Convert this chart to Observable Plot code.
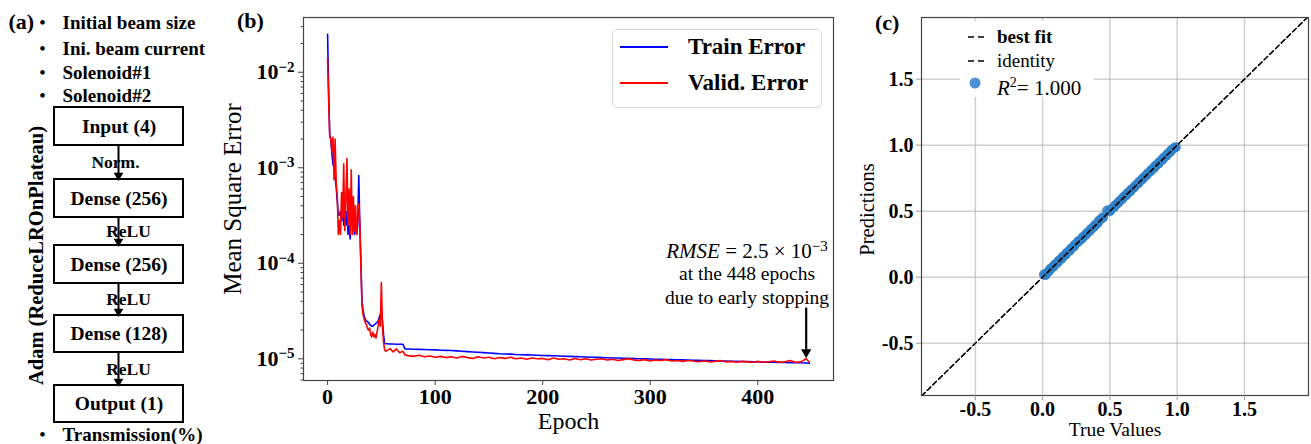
<!DOCTYPE html>
<html><head><meta charset="utf-8">
<script src="https://cdn.jsdelivr.net/npm/d3@7"></script>
<script src="https://cdn.jsdelivr.net/npm/@observablehq/plot@0.6"></script>
<style>
body{margin:0;background:#fff;}
#fig{position:relative;width:1311px;height:444px;overflow:hidden;font-family:"Liberation Serif","Times New Roman",serif;color:#000;}
.t{position:absolute;white-space:nowrap;height:30px;line-height:30px;}
#fig svg text{font-family:"Liberation Serif","Times New Roman",serif;}
</style></head><body><div id="fig"></div>
<script>
// ---------------- data ----------------
// panel (a)
const inputFeatures = ["Initial beam size", "Ini. beam current", "Solenoid#1", "Solenoid#2"];
const layers = ["Input (4)", "Dense (256)", "Dense (256)", "Dense (128)", "Output (1)"];
const activations = ["Norm.", "ReLU", "ReLU", "ReLU"];
const outputs = ["Transmission(%)"];
const optimizer = "Adam (ReduceLROnPlateau)";

// panel (b)
const epochs = [0,1,2,3,4,5,6,7,8,9,10,11,12,13,14,15,16,17,18,19,20,21,22,23,24,25,26,27,28,29,30,31,32,33,34,35,36,37,38,39,40,41,42,43,44,45,46,47,48,49,50,51,52,53,54,55,
58,61,64,67,70,72,
75,80,85,90,95,100,105,110,115,120,125,130,135,140,145,150,155,160,165,170,175,180,185,190,195,200,205,210,215,220,225,230,235,240,245,250,255,260,265,270,275,280,285,290,295,300,305,310,315,320,325,330,335,340,345,350,355,360,365,370,375,380,385,390,395,400,405,410,415,420,425,430,435,440,445,448];
const trainError = [2.5e-2,6.3e-3,2.2e-3,2.0e-3,1.4e-3,1.1e-3,1.0e-3,7.9e-4,6.3e-4,4.5e-4,
3.2e-4,3.2e-4,3.5e-4,2.8e-4,4.0e-4,2.5e-4,3.2e-4,2.5e-4,3.5e-4,2.0e-4,
2.5e-4,1.8e-4,3.2e-4,3.5e-4,2.5e-4,2.0e-4,3.2e-4,2.0e-4,2.5e-4,8.3e-4,
2.5e-4,1.0e-4,4.0e-5,3.2e-5,2.8e-5,2.6e-5,2.5e-5,2.45e-5,2.4e-5,2.3e-5,
2.25e-5,2.2e-5,2.2e-5,2.25e-5,2.3e-5,2.35e-5,2.4e-5,2.5e-5,2.7e-5,2.9e-5,
3.2e-5,2.5e-5,1.8e-5,1.45e-5,1.44e-5,1.44e-5,
1.43e-5,1.43e-5,1.42e-5,1.42e-5,1.42e-5,1.27e-5,
1.265e-5,1.26e-5,1.255e-5,1.25e-5,1.245e-5,1.24e-5,1.23e-5,1.225e-5,1.22e-5,1.21e-5,
1.2e-5,1.19e-5,1.18e-5,1.17e-5,1.16e-5,1.15e-5,1.14e-5,1.13e-5,1.125e-5,1.12e-5,
1.11e-5,1.105e-5,1.1e-5,1.095e-5,1.09e-5,1.085e-5,1.08e-5,1.075e-5,1.07e-5,1.065e-5,
1.06e-5,1.055e-5,1.05e-5,1.045e-5,1.04e-5,1.035e-5,1.03e-5,1.025e-5,1.02e-5,1.02e-5,
1.015e-5,1.01e-5,1.005e-5,1.0e-5,9.98e-6,9.95e-6,9.9e-6,9.87e-6,9.84e-6,9.8e-6,
9.77e-6,9.74e-6,9.7e-6,9.67e-6,9.64e-6,9.6e-6,9.57e-6,9.54e-6,9.5e-6,9.47e-6,
9.44e-6,9.4e-6,9.37e-6,9.34e-6,9.3e-6,9.28e-6,9.25e-6,9.22e-6,9.2e-6,9.17e-6,
9.14e-6,9.12e-6,9.1e-6,9.08e-6,9.05e-6,9.0e-6];
const validError = [1.4e-2,5.0e-3,2.1e-3,2.0e-3,1.5e-3,2.1e-3,7.5e-4,2.0e-3,7.0e-4,5.0e-4,
2.0e-4,2.8e-4,2.0e-4,5.5e-4,3.0e-4,1.1e-3,2.2e-4,4.5e-4,1.25e-3,2.5e-4,
6.0e-4,2.0e-4,9.5e-4,2.0e-4,5.0e-4,2.2e-4,4.0e-4,2.0e-4,2.8e-4,4.2e-4,
2.6e-4,9.0e-5,3.6e-5,2.9e-5,2.6e-5,2.4e-5,2.3e-5,2.1e-5,2.0e-5,2.1e-5,
1.8e-5,1.7e-5,1.9e-5,1.7e-5,1.8e-5,1.65e-5,1.9e-5,2.2e-5,2.6e-5,2.2e-5,
6.3e-5,2.2e-5,1.5e-5,1.25e-5,1.2e-5,1.22e-5,
1.28e-5,1.18e-5,1.27e-5,1.16e-5,1.2e-5,1.1e-5,
1.08e-5,1.06e-5,1.09e-5,1.05e-5,1.07e-5,1.04e-5,1.06e-5,1.03e-5,1.05e-5,1.02e-5,
1.06e-5,1.03e-5,1.01e-5,1.05e-5,1.02e-5,1.04e-5,1.0e-5,1.03e-5,1.01e-5,1.04e-5,
1.0e-5,1.02e-5,9.9e-6,1.02e-5,1.0e-5,1.01e-5,9.8e-6,1.02e-5,9.9e-6,1.0e-5,
9.7e-6,1.01e-5,9.8e-6,1.0e-5,9.7e-6,9.9e-6,1.0e-5,9.7e-6,9.9e-6,9.6e-6,
9.8e-6,1.0e-5,9.7e-6,9.6e-6,9.8e-6,9.5e-6,9.7e-6,9.6e-6,9.8e-6,9.5e-6,
9.6e-6,9.4e-6,9.6e-6,9.5e-6,9.3e-6,9.5e-6,9.3e-6,9.4e-6,9.6e-6,9.3e-6,
9.4e-6,9.2e-6,9.4e-6,9.3e-6,9.2e-6,9.4e-6,9.2e-6,9.3e-6,9.5e-6,9.2e-6,
9.3e-6,9.6e-6,9.2e-6,9.3e-6,1.0e-5,9.2e-6];
const seriesNames = ["Train Error", "Valid. Error"];
const epochTicks = [0, 100, 200, 300, 400];
const mseMajorTicks = [1e-2, 1e-3, 1e-4, 1e-5];
const mseMinorTicks = [6e-6,7e-6,8e-6,9e-6,2e-5,3e-5,4e-5,5e-5,6e-5,7e-5,8e-5,9e-5,2e-4,3e-4,4e-4,5e-4,6e-4,7e-4,8e-4,9e-4,2e-3,3e-3,4e-3,5e-3,6e-3,7e-3,8e-3,9e-3,2e-2,3e-2];
const stopEpoch = 445;
const annotation = ["RMSE = 2.5 × 10^-3", "at the 448 epochs", "due to early stopping"];

// panel (c)
const trueValues = [0.01,0.02,0.03,0.05,0.06,0.08,0.09,0.11,0.12,0.14,0.15,0.17,0.18,0.20,0.21,0.23,0.24,0.26,0.27,0.29,0.30,0.32,0.33,0.35,0.36,0.38,0.39,0.41,0.42,0.44,0.45,0.48,0.50,0.51,0.53,0.54,0.56,0.57,0.59,0.60,0.62,0.63,0.65,0.66,0.68,0.69,0.71,0.72,0.74,0.75,0.77,0.78,0.80,0.81,0.83,0.84,0.86,0.87,0.89,0.90,0.92,0.93,0.95,0.96,0.98,0.99];
const predictions = [0.02,0.015,0.03,0.05,0.065,0.08,0.095,0.11,0.125,0.14,
0.155,0.17,0.185,0.2,0.215,0.23,0.245,0.265,0.275,0.29,
0.305,0.32,0.335,0.35,0.365,0.38,0.395,0.41,0.43,0.445,
0.455,0.505,0.5,0.515,0.53,0.545,0.56,0.575,0.59,0.605,
0.62,0.635,0.65,0.665,0.68,0.695,0.71,0.725,0.74,0.755,
0.77,0.785,0.8,0.815,0.83,0.845,0.86,0.875,0.89,0.905,
0.92,0.935,0.95,0.965,0.98,0.985];
const identityX = [-0.9, 1.98], identityY = [-0.9, 1.98];
const bestFitX = [-0.9, 1.98], bestFitY = [-0.9, 1.98];
const cTicks = [-0.5, 0, 0.5, 1.0, 1.5];
const legendC = ["best fit", "identity", "R²= 1.000"];

// ---------------- helpers ----------------
const fig = document.getElementById("fig");
const ff = "'Liberation Serif', 'Times New Roman', serif";
function place(el, left, top) { el.style.position = "absolute"; el.style.left = left + "px"; el.style.top = top + "px"; fig.appendChild(el); return el; }
function addText(html, x, cy, css) {
  const d = document.createElement("div"); d.className = "t"; d.innerHTML = html;
  d.style.cssText += css || ""; place(d, x, cy - 15); return d;
}
function supify(svg, supSize) {
  d3.select(svg).selectAll("text").each(function() {
    const t = this.textContent;
    const m = t.match(/^(.*)10\^(-?\d+)$/);
    if (!m) return;
    const sel = d3.select(this); sel.text(null);
    let pre = m[1];
    if (pre.startsWith("RMSE")) { sel.append("tspan").attr("font-style", "italic").text("RMSE"); pre = pre.slice(4); }
    sel.append("tspan").text(pre + "10");
    sel.append("tspan").attr("dy", "-0.5em").attr("font-size", supSize + "px").text(m[2].replace("-", "−"));
  });
}
const T = (o) => ({fontFamily: ff, ...o});

// ---------------- panel (a) ----------------
const featY = [22, 48, 72, 95];
const boxTop = [107, 179, 245, 315, 385], boxBot = [145, 217, 283, 352, 422];
const boxes = layers.map((name, i) => ({name, top: boxTop[i], bot: boxBot[i]}));
const links = activations.map((label, i) => ({label, y1: boxBot[i], y2: boxTop[i + 1]}));
const A = Plot.plot({
  width: 230, height: 444, margin: 0,
  x: {domain: [0, 230], range: [0, 230], axis: null},
  y: {domain: [0, 444], range: [0, 444], axis: null},
  style: {fontFamily: ff, background: "transparent", color: "black", overflow: "visible"},
  marks: [
    Plot.text(["(a)"], T({x: 8, y: 21, text: d => d, textAnchor: "start", fontSize: 22, fontWeight: "bold"})),
    Plot.text(inputFeatures, T({x: 42, y: (d, i) => featY[i], text: () => "•", fontSize: 17, fontWeight: "bold"})),
    Plot.text(inputFeatures, T({x: 62, y: (d, i) => featY[i], text: d => d, textAnchor: "start", fontSize: 19, fontWeight: "bold"})),
    Plot.text(outputs, T({x: 42, y: 434, text: () => "•", fontSize: 17, fontWeight: "bold"})),
    Plot.text(outputs, T({x: 62, y: 434, text: d => d, textAnchor: "start", fontSize: 19, fontWeight: "bold"})),
    Plot.rect(boxes, {x1: 54, x2: 183, y1: "top", y2: "bot", fill: "white", stroke: "black", strokeWidth: 2}),
    Plot.text(boxes, T({x: 118.5, y: d => (d.top + d.bot) / 2, text: "name", fontSize: 19.5, fontWeight: "bold"})),
    Plot.link(links, {x1: 118, x2: 118, y1: "y1", y2: d => d.y2 - 6, stroke: "black", strokeWidth: 2}),
    Plot.dot(links, {x: 118, y: d => d.y2 - 4, symbol: "triangle", rotate: 180, r: 3.6, fill: "black"}),
    Plot.text(links, T({x: d => d.label === "Norm." ? 115 : 128, y: d => (d.y1 + d.y2) / 2, text: "label",
      textAnchor: d => d.label === "Norm." ? "end" : "start", fontSize: 17.5, fontWeight: "bold"})),
    Plot.text([optimizer], T({x: 36, y: 255, text: d => d, rotate: -90, fontSize: 20.5, fontWeight: "bold"}))
  ]
});
place(A, 0, 0);

// ---------------- panel (b) ----------------
const trainData = epochs.map((e, i) => ({epoch: e, mse: trainError[i]}));
const validData = epochs.map((e, i) => ({epoch: e, mse: validError[i]}));
const B = Plot.plot({
  width: 620, height: 444, marginLeft: 83, marginRight: 7, marginTop: 17, marginBottom: 64,
  style: {fontFamily: ff, background: "transparent", color: "black", overflow: "visible"},
  x: {domain: [-22.4, 470.4]},
  y: {type: "log", domain: [5.93e-6, 3.74e-2]},
  marks: [
    Plot.line(trainData, {x: "epoch", y: "mse", stroke: "#0000ff", strokeWidth: 1.6}),
    Plot.line(validData, {x: "epoch", y: "mse", stroke: "#ff0000", strokeWidth: 1.6}),
    Plot.frame({stroke: "#444", strokeWidth: 1.2}),
    Plot.axisX(T({ticks: epochTicks, tickSize: 5, tickPadding: 3, fontSize: 22, fontWeight: "bold", label: null, tickFormat: d => String(d), stroke: "#444"})),
    Plot.axisY(T({ticks: mseMajorTicks, tickSize: 5, tickPadding: 4, fontSize: 22, fontWeight: "bold", label: null, tickFormat: d => "10^" + Math.round(Math.log10(d)), stroke: "#444"})),
    Plot.axisY({ticks: mseMinorTicks, tickSize: 2.5, tickFormat: () => " ", label: null, stroke: "#444", fontSize: 8}),
    Plot.text(["Mean Square Error"], T({frameAnchor: "left", dx: -71, rotate: -90, textAnchor: "middle", text: d => d, fontSize: 25})),
    Plot.text(["Epoch"], T({frameAnchor: "bottom", dy: 48, text: d => d, fontSize: 24})),
    Plot.link([stopEpoch], {x1: d => d, x2: d => d, y1: 3.44e-5, y2: 1.25e-5, stroke: "black", strokeWidth: 2.2}),
    Plot.dot([stopEpoch], {x: d => d, y: 1.17e-5, symbol: "triangle", rotate: 180, r: 3.8, fill: "black"}),
    Plot.text([annotation[0]], T({x: 390, frameAnchor: "top", dy: 226, text: d => d, fontSize: 21})),
    Plot.text([annotation[1]], T({x: 390, frameAnchor: "top", dy: 249, text: d => d, fontSize: 19.5})),
    Plot.text([annotation[2]], T({x: 390, frameAnchor: "top", dy: 273, text: d => d, fontSize: 19.5}))
  ]
});
supify(B, 15);
place(B, 220, 0);
addText("(b)", 237, 21, "font-weight:bold;font-size:22px;");
// legend (b)
const legB = document.createElement("div");
legB.style.cssText = "width:208px;height:77px;border:1px solid #d6d6d6;border-radius:5px;background:rgba(255,255,255,0.8);";
place(legB, 612, 29);
const bColors = ["#0000ff", "#ff0000"], bY = [47, 83];
seriesNames.forEach((s, i) => {
  addText(`<svg width="50" height="30"><line x1="1" x2="49" y1="15" y2="15" stroke="${bColors[i]}" stroke-width="2"/></svg>`, 619, bY[i]);
  addText(s, 688, bY[i], "font-weight:bold;font-size:23px;");
});

// ---------------- panel (c) ----------------
const scatter = trueValues.map((t, i) => ({t, p: predictions[i]}));
const identityLine = identityX.map((x, i) => ({x, y: identityY[i]}));
const bestFitLine = bestFitX.map((x, i) => ({x, y: bestFitY[i]}));
const C = Plot.plot({
  width: 471, height: 444, marginLeft: 81, marginRight: 3, marginTop: 17, marginBottom: 49,
  style: {fontFamily: ff, background: "transparent", color: "black", overflow: "visible"},
  x: {domain: [-0.9, 1.976]},
  y: {domain: [-0.896, 1.967]},
  marks: [
    Plot.gridX({ticks: cTicks, stroke: "#b0b0b0", strokeOpacity: 0.6, strokeWidth: 1.5}),
    Plot.gridY({ticks: cTicks, stroke: "#b0b0b0", strokeOpacity: 0.6, strokeWidth: 1.5}),
    Plot.dot(scatter, {x: "t", y: "p", r: 5, fill: "#2f80c8", fillOpacity: 0.9}),
    Plot.line(bestFitLine, {x: "x", y: "y", stroke: "black", strokeWidth: 1.3, strokeDasharray: "5,3", clip: true}),
    Plot.line(identityLine, {x: "x", y: "y", stroke: "black", strokeWidth: 1.3, strokeDasharray: "5,3", clip: true}),
    Plot.frame({stroke: "#444", strokeWidth: 1.2}),
    Plot.axisX(T({ticks: cTicks, tickSize: 5, tickPadding: 1, fontSize: 20, fontWeight: "bold", label: null, tickFormat: d => d.toFixed(1), stroke: "#999"})),
    Plot.axisY(T({ticks: cTicks, tickSize: 5, tickPadding: 3, fontSize: 20, fontWeight: "bold", label: null, tickFormat: d => d.toFixed(1), stroke: "#999"})),
    Plot.text(["Predictions"], T({frameAnchor: "left", dx: -54, dy: 3, rotate: -90, textAnchor: "middle", text: d => d, fontSize: 20.5})),
    Plot.text(["True Values"], T({frameAnchor: "bottom", dy: 40, text: d => d, fontSize: 19.5}))
  ]
});
place(C, 840, 0);
addText("(c)", 875, 23, "font-weight:bold;font-size:22px;");
const legC = document.createElement("div");
legC.style.cssText = "width:134px;height:76px;background:#fff;";
place(legC, 960, 21);
const dash = `<svg width="20" height="30"><line x1="1" x2="19" y1="15" y2="15" stroke="black" stroke-width="1.5" stroke-dasharray="6,4"/></svg>`;
addText(dash, 967, 37);
addText(legendC[0], 997, 37, "font-weight:bold;font-size:19px;");
addText(dash, 967, 61);
addText(legendC[1], 997, 61, "font-size:19px;");
addText(`<svg width="14" height="30"><circle cx="7" cy="15" r="5.5" fill="#4a92d4"/></svg>`, 968, 83);
addText(`<i>R</i><span style="font-size:14px;vertical-align:8px;">2</span>= 1.000`, 997, 83, "font-size:21px;");
</script></body></html>
